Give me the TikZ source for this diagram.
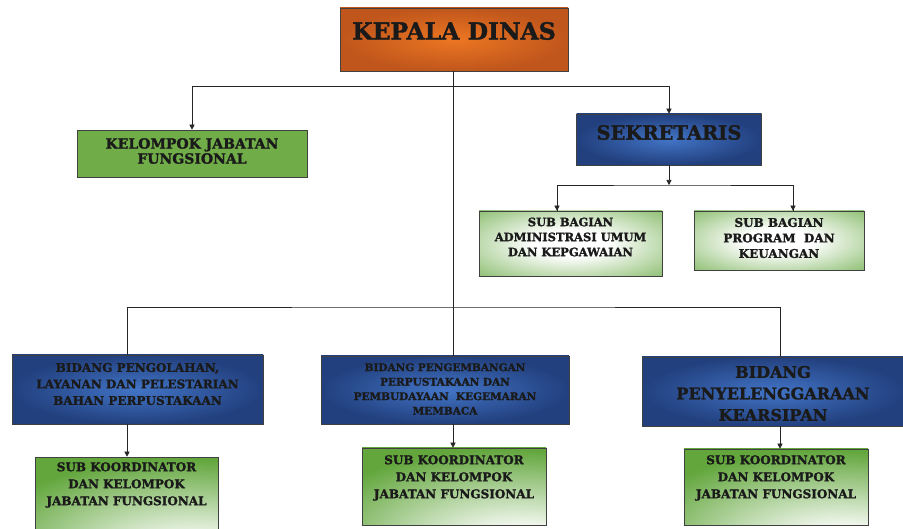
\documentclass[tikz,border=0pt]{standalone}
\usepackage{fontspec}
\setmainfont{DejaVu Serif}[BoldFeatures={FakeBold=1.6}]
\usetikzlibrary{arrows.meta}
\definecolor{orgin}{RGB}{236,118,34}
\definecolor{orgout}{RGB}{192,86,28}
\definecolor{blin}{RGB}{66,116,198}
\definecolor{blout}{RGB}{34,64,126}
\definecolor{grflat}{RGB}{112,172,72}
\definecolor{grdeep}{RGB}{98,166,60}
\definecolor{txtc}{RGB}{26,26,26}
\pgfdeclareradialshading{subkoor}{\pgfpoint{22bp}{-46bp}}{color(0bp)=(white); color(12bp)=(white); color(52bp)=(grdeep); color(130bp)=(grdeep)}
\pgfdeclareradialshading{subbagshade}{\pgfpoint{0bp}{0bp}}{color(0bp)=(white); color(10bp)=(white); color(46bp)=(grdeep); color(75bp)=(grdeep)}
\newcommand{\fsz}[2]{\fontsize{#1}{#2}\selectfont\bfseries}
\begin{document}
\begin{tikzpicture}[x=1pt,y=-1pt,
  box/.style={draw=black!75, line width=0.6pt, inner sep=0pt},
  orgbox/.style={box, inner color=orgin, outer color=orgout},
  bluebox/.style={box, inner color=blin, outer color=blout},
  flatgreen/.style={box, fill=grflat},
  subbag/.style={box, shading=subbagshade},
  subk/.style={box, shading=subkoor},
  txt/.style={text=txtc, align=center, inner sep=0pt},
  conn/.style={line width=0.6pt, draw=black!85},
  arr/.style={conn, -{Triangle[length=5pt,width=5pt]}}]
\clip (0,0) rectangle (903,529);
\fill[white] (0,0) rectangle (903,529);
% boxes
\node[orgbox, minimum width=228pt, minimum height=63pt] (kep) at (454,39.5) {};
\node[flatgreen, minimum width=230pt, minimum height=47pt] (kel) at (192,153.5) {};
\node[bluebox, minimum width=185pt, minimum height=51pt] (sek) at (669,139.5) {};
\node[subbag, minimum width=183pt, minimum height=65pt] (adm) at (570.5,243.5) {};
\node[subbag, minimum width=170pt, minimum height=59pt] (prog) at (779,240.5) {};
\node[bluebox, minimum width=251pt, minimum height=69pt] (bida) at (137.5,389.5) {};
\node[bluebox, minimum width=248pt, minimum height=68pt] (bidb) at (445,390) {};
\node[bluebox, minimum width=263pt, minimum height=69pt] (bidc) at (773.5,391.5) {};
\node[subk, minimum width=183pt, minimum height=80pt] (suba) at (126.5,497) {};
\node[subk, minimum width=184pt, minimum height=77pt] (subb) at (454,486.5) {};
\node[subk, minimum width=184pt, minimum height=76pt] (subc) at (776,487) {};
% texts
\node[txt, font=\fsz{23.5}{26}] (tkep) at (454,31) {KEPALA DINAS};
\node[txt, font=\fsz{14}{15}] (tkel) at (192,151) {KELOMPOK JABATAN\\FUNGSIONAL};
\node[txt, font=\fsz{19.5}{20}] (tsek) at (669,132.5) {SEKRETARIS};
\node[txt, font=\fsz{11.5}{15}] (tadm) at (570.5,237) {SUB BAGIAN\\ADMINISTRASI UMUM\\DAN KEPGAWAIAN};
\node[txt, font=\fsz{12}{15.5}] (tprog) at (779,238) {SUB BAGIAN\\PROGRAM\ \ DAN\\KEUANGAN};
\node[txt, font=\fsz{12}{16.5}] (tbida) at (137.5,384) {BIDANG PENGOLAHAN,\\LAYANAN DAN PELESTARIAN\\BAHAN PERPUSTAKAAN};
\node[txt, font=\fsz{10.5}{14.5}] (tbidb) at (445,389) {BIDANG PENGEMBANGAN\\PERPUSTAKAAN DAN\\PEMBUDAYAAN\ \ KEGEMARAN\\MEMBACA};
\node[txt, font=\fsz{16}{21.5}] (tbidc) at (773,393.5) {BIDANG\\PENYELENGGARAAN\\KEARSIPAN};
\node[txt, font=\fsz{12}{17}] (tsuba) at (126.5,485) {SUB KOORDINATOR\\DAN KELOMPOK\\JABATAN FUNGSIONAL};
\node[txt, font=\fsz{12}{17}] (tsubb) at (454,478) {SUB KOORDINATOR\\DAN KELOMPOK\\JABATAN FUNGSIONAL};
\node[txt, font=\fsz{12}{17}] (tsubc) at (776,478) {SUB KOORDINATOR\\DAN KELOMPOK\\JABATAN FUNGSIONAL};
% junctions
\coordinate (jtop) at (453,86);
\coordinate (jmid) at (453,307);
\coordinate (jsek) at (669,185);
% connectors
\draw[conn] (kep.south -| jtop) -- (jmid);
\draw[conn] (kel.north |- jtop) -- (sek.north |- jtop);
\draw[arr] (kel.north |- jtop) -- (kel.north);
\draw[arr] (sek.north |- jtop) -- (sek.north);
\draw[arr] (sek.south) -- (jsek);
\draw[conn] (adm.north -| 557,0) |- (jsek) -| (prog.north -| 793,0);
\draw[arr] (557,185) -- (adm.north -| 557,0);
\draw[arr] (793,185) -- (prog.north -| 793,0);
\draw[conn] (bida.north -| 127,0) |- (jmid) -| (bidc.north -| 780,0);
\draw[conn] (jmid) -- (bidb.north -| jmid);
\draw[arr] (bida.south -| 127,0) -- (suba.north -| 127,0);
\draw[arr] (bidb.south -| jmid) -- (subb.north -| jmid);
\draw[arr] (bidc.south -| 780,0) -- (subc.north -| 780,0);
\end{tikzpicture}
\end{document}
